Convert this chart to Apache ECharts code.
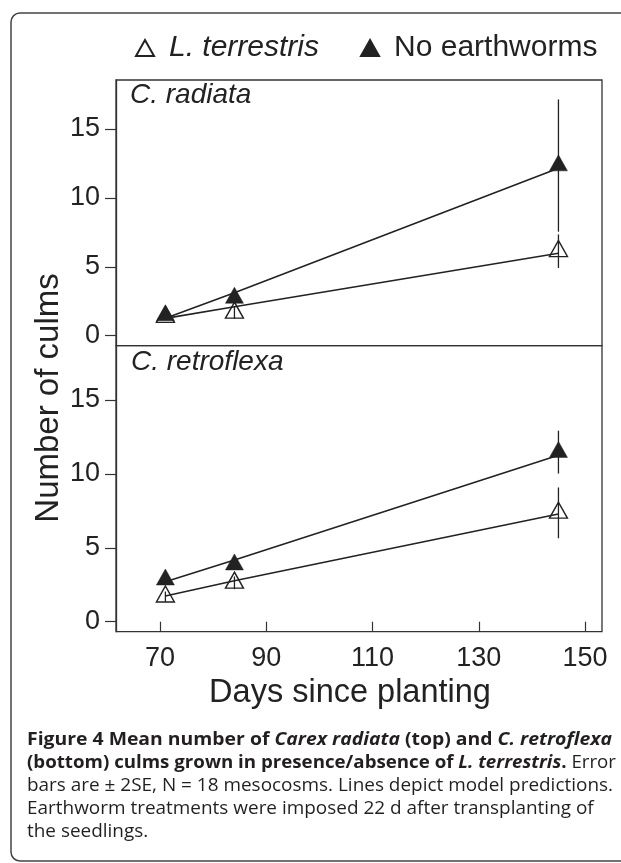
<!DOCTYPE html>
<html>
<head>
<meta charset="utf-8">
<script src="https://cdn.jsdelivr.net/npm/echarts@6/dist/echarts.min.js"></script>
<style>
html,body{margin:0;padding:0;background:#fff;}
#chart{width:621px;height:863px;}
</style>
</head>
<body>
<div id="chart"></div>
<script>
// ---- data ----
const days = [71, 84, 145];
const xTicks = [70, 90, 110, 130, 150];
const yTicks = [0, 5, 10, 15];
const seriesNames = ['L. terrestris', 'No earthworms'];
const panelNames = ['C. radiata', 'C. retroflexa'];

// C. radiata (top)
const radiataEarthMean = [1.35, 1.66, 6.13];
const radiataEarthErr  = [0.2, 0.45, 1.22];
const radiataNoneMean  = [1.47, 2.74, 12.35];
const radiataNoneErr   = [0.2, 0.3, 4.8];
const radiataEarthFit  = [1.26, 2.1, 5.98];
const radiataNoneFit   = [1.26, 3.12, 12.15];

// C. retroflexa (bottom)
const retroEarthMean = [1.69, 2.63, 7.36];
const retroEarthErr  = [0.35, 0.43, 1.72];
const retroNoneMean  = [2.84, 3.86, 11.47];
const retroNoneErr   = [0.2, 0.3, 1.45];
const retroEarthFit  = [1.74, 2.77, 7.28];
const retroNoneFit   = [2.7, 4.17, 11.26];

// ---- helpers ----
const INK = '#222';
const FONT = '"Liberation Sans", Arial, sans-serif';
const pairs = (xs, ys) => xs.map((x, i) => [x, ys[i]]);
const errData = (xs, m, e) => xs.map((x, i) => [x, m[i] - e[i], m[i] + e[i]]);

function errSeries(gi, m, e) {
  return {
    type: 'custom', xAxisIndex: gi, yAxisIndex: gi, silent: true, z: 3,
    data: errData(days, m, e),
    renderItem: function (params, api) {
      const p1 = api.coord([api.value(0), api.value(1)]);
      const p2 = api.coord([api.value(0), api.value(2)]);
      return { type: 'line', shape: { x1: p1[0], y1: p1[1], x2: p2[0], y2: p2[1] },
               style: { stroke: INK, lineWidth: 1.3 } };
    }
  };
}
function fitSeries(gi, fit) {
  return { type: 'line', xAxisIndex: gi, yAxisIndex: gi, silent: true, z: 2,
    symbol: 'none', data: pairs(days, fit),
    lineStyle: { color: INK, width: 1.6 } };
}
function pointSeries(gi, name, m, filled) {
  return { type: 'scatter', name: name, xAxisIndex: gi, yAxisIndex: gi, z: filled ? 6 : 5,
    symbol: 'triangle', symbolSize: [18, 16], symbolOffset: [0, -2.7],
    data: pairs(days, m),
    itemStyle: filled ? { color: INK, borderColor: INK, borderWidth: 0.5, opacity: 1 }
                      : { color: 'rgba(255,255,255,0)', borderColor: INK, borderWidth: 1.4, opacity: 1 } };
}

function xAxisCfg(gi, showLabels) {
  return {
    type: 'value', gridIndex: gi, min: 61.7, max: 153.2,
    splitLine: { show: false },
    axisLine: { show: false },
    axisTick: { show: showLabels, customValues: xTicks, length: 10, lineStyle: { color: '#333', width: 1.2 } },
    axisLabel: { show: showLabels, customValues: xTicks, fontSize: 27, color: INK, fontFamily: FONT, margin: 13 }
  };
}
function yAxisCfg(gi, min, max) {
  return {
    type: 'value', gridIndex: gi, min: min, max: max,
    splitLine: { show: false },
    axisLine: { show: true, lineStyle: { color: '#333', width: 1.3 } },
    axisTick: { show: true, customValues: yTicks, length: 11, lineStyle: { color: '#333', width: 1.2 } },
    axisLabel: { show: true, customValues: yTicks, fontSize: 27, color: INK, fontFamily: FONT, margin: 16 }
  };
}

// ---- caption ----
const capFs = 18.5;
const capFam = '"Open Sans", sans-serif';
const capLines = [
  [['b', 'Figure 4 Mean number of '], ['bi', 'Carex radiata'], ['b', ' (top) and '], ['bi', 'C. retroflexa']],
  [['b', '(bottom) culms grown in presence/absence of '], ['bi', 'L. terrestris'], ['b', '.'], ['n', ' Error']],
  [['n', 'bars are \u00b1 2SE, N = 18 mesocosms. Lines depict model predictions.']],
  [['n', 'Earthworm treatments were imposed 22 d after transplanting of']],
  [['n', 'the seedlings.']]
];
const capTargets = [585, 589, 586, null, null];
const capBaselines = [746.5, 769.5, 792.5, 815.5, 838.5];
const fontFor = k => (k === 'b' ? 'bold ' : k === 'bi' ? 'italic bold ' : '') + capFs + 'px ' + capFam;
const mctx = document.createElement('canvas').getContext('2d');
function lineWidth(line) {
  let w = 0;
  line.forEach(([k, t]) => { mctx.font = fontFor(k); w += mctx.measureText(t).width; });
  return w;
}
const capRich = {
  b:  { fontWeight: 'bold', fontSize: capFs, fontFamily: capFam, fill: '#231f20' },
  bi: { fontWeight: 'bold', fontStyle: 'italic', fontSize: capFs, fontFamily: capFam, fill: '#231f20' },
  n:  { fontSize: capFs, fontFamily: capFam, fill: '#231f20' }
};
let lastScale = 1;
const captionEls = capLines.map((line, i) => {
  const w = lineWidth(line);
  let s = capTargets[i] ? capTargets[i] / w : lastScale;
  if (capTargets[i]) lastScale = s;
  return {
    type: 'text', x: 27, y: capBaselines[i] - 0.36 * capFs, scaleX: s, scaleY: 1, silent: true,
    style: {
      text: line.map(([k, t]) => '{' + k + '|' + t + '}').join(''),
      rich: capRich, align: 'left', verticalAlign: 'middle'
    }
  };
});

const chart = echarts.init(document.getElementById('chart'), null, { renderer: 'canvas' });
chart.setOption({
  animation: false,
  backgroundColor: '#fff',
  textStyle: { fontFamily: FONT },
  legend: {
    left: 135, top: 33, padding: 0, itemGap: 41,
    itemWidth: 18, itemHeight: 16,
    data: [
      { name: seriesNames[0], textStyle: { fontStyle: 'italic' } },
      { name: seriesNames[1] }
    ],
    textStyle: { fontSize: 30, color: INK, fontFamily: FONT, padding: [0, 0, 0, 10] }
  },
  grid: [
    { left: 116, top: 80, width: 486, height: 265.7, show: true, borderColor: '#333', borderWidth: 1.3, backgroundColor: 'transparent' },
    { left: 116, top: 345.7, width: 486, height: 286, show: true, borderColor: '#333', borderWidth: 1.3, backgroundColor: 'transparent' }
  ],
  xAxis: [xAxisCfg(0, false), xAxisCfg(1, true)],
  yAxis: [yAxisCfg(0, -0.726, 18.56), yAxisCfg(1, -0.677, 18.67)],
  series: [
    fitSeries(0, radiataEarthFit), fitSeries(0, radiataNoneFit),
    errSeries(0, radiataEarthMean, radiataEarthErr), errSeries(0, radiataNoneMean, radiataNoneErr),
    pointSeries(0, seriesNames[0], radiataEarthMean, false),
    pointSeries(0, seriesNames[1], radiataNoneMean, true),
    fitSeries(1, retroEarthFit), fitSeries(1, retroNoneFit),
    errSeries(1, retroEarthMean, retroEarthErr), errSeries(1, retroNoneMean, retroNoneErr),
    pointSeries(1, seriesNames[0], retroEarthMean, false),
    pointSeries(1, seriesNames[1], retroNoneMean, true)
  ],
  graphic: [
    { type: 'rect', silent: true, shape: { x: 11, y: 13, width: 800, height: 848, r: 9 },
      style: { fill: 'none', stroke: '#444', lineWidth: 1.5 } },
    { type: 'text', x: 130, y: 95, silent: true,
      style: { text: panelNames[0], font: 'italic 28px ' + FONT, fill: INK, align: 'left', verticalAlign: 'middle' } },
    { type: 'text', x: 131, y: 362.5, silent: true,
      style: { text: panelNames[1], font: 'italic 28px ' + FONT, fill: INK, align: 'left', verticalAlign: 'middle' } },
    { type: 'text', x: 48.5, y: 398, rotation: Math.PI / 2, silent: true,
      style: { text: 'Number of culms', font: '33px ' + FONT, fill: INK, align: 'center', verticalAlign: 'middle' } },
    { type: 'text', x: 350, y: 693.5, silent: true,
      style: { text: 'Days since planting', font: '32.5px ' + FONT, fill: INK, align: 'center', verticalAlign: 'middle' } }
  ].concat(captionEls)
});
</script>
</body>
</html>
